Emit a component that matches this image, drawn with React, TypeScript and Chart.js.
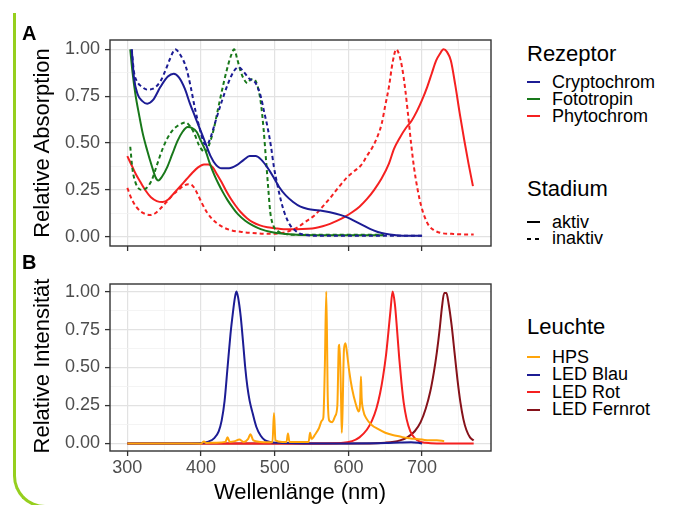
import React, { useEffect, useRef } from 'react';
import { Chart, registerables } from 'chart.js';

Chart.register(...registerables);

const FONT = '"Liberation Sans", Arial, Helvetica, sans-serif';

// ---------- axis ticks ----------
const xMajor = [300, 400, 500, 600, 700];
const xTicks = [300, 350, 400, 450, 500, 550, 600, 650, 700, 750];
const yMajor = [0, 0.25, 0.5, 0.75, 1];
const yTicks = [0, 0.125, 0.25, 0.375, 0.5, 0.625, 0.75, 0.875, 1];
const yTickLabels = ['0.00', '0.25', '0.50', '0.75', '1.00'];

// ---------- Panel A: Rezeptor absorption ----------
const cryAktivX = [306, 309, 314, 320, 327, 335, 345, 355, 363, 370, 378, 385, 392, 399, 406, 413, 420, 428, 438, 448, 458, 466, 474, 482, 490, 498, 506, 515, 525, 535, 545, 560, 575, 590, 600, 610, 620, 630, 640, 650, 665, 680, 700];
const cryAktivY = [1.0, 0.85, 0.76, 0.725, 0.71, 0.73, 0.8, 0.855, 0.87, 0.85, 0.79, 0.71, 0.64, 0.57, 0.5, 0.43, 0.385, 0.365, 0.365, 0.38, 0.41, 0.43, 0.43, 0.41, 0.37, 0.32, 0.265, 0.22, 0.185, 0.16, 0.148, 0.14, 0.13, 0.115, 0.1, 0.08, 0.06, 0.04, 0.025, 0.015, 0.008, 0.005, 0.005];

const cryInaktivX = [306, 309, 313, 320, 327, 335, 345, 352, 358, 365, 372, 380, 386, 392, 398, 404, 408, 413, 420, 428, 436, 444, 451, 458, 465, 474, 481, 486, 490, 495, 499, 504, 508, 513, 517, 522, 526, 532, 540, 560, 600, 650, 700];
const cryInaktivY = [1.0, 0.88, 0.83, 0.8, 0.785, 0.79, 0.83, 0.89, 0.95, 1.0, 0.97, 0.9, 0.8, 0.68, 0.58, 0.5, 0.49, 0.53, 0.62, 0.72, 0.81, 0.88, 0.905, 0.88, 0.845, 0.82, 0.75, 0.66, 0.59, 0.48, 0.37, 0.27, 0.2, 0.13, 0.09, 0.055, 0.04, 0.02, 0.01, 0.005, 0.005, 0.005, 0.005];

const fotoAktivX = [304, 307, 311, 316, 321, 327, 333, 338, 342, 347, 354, 361, 368, 375, 382, 388, 394, 400, 406, 412, 418, 424, 430, 436, 443, 450, 460, 470, 481, 495, 512, 530, 560, 600, 648];
const fotoAktivY = [1.0, 0.88, 0.76, 0.65, 0.55, 0.46, 0.38, 0.32, 0.3, 0.32, 0.37, 0.44, 0.51, 0.56, 0.585, 0.58, 0.56, 0.51, 0.46, 0.39, 0.33, 0.28, 0.235, 0.195, 0.155, 0.12, 0.085, 0.06, 0.04, 0.025, 0.015, 0.01, 0.008, 0.008, 0.008];

const fotoInaktivX = [304, 307, 311, 316, 320, 326, 333, 340, 347, 355, 363, 372, 379, 385, 391, 397, 402, 406, 411, 417, 423, 429, 435, 441, 445, 449, 454, 459, 463, 468, 472, 477, 481, 485, 488, 491, 494, 498, 504, 512, 530, 560, 600, 648];
const fotoInaktivY = [0.48, 0.36, 0.29, 0.255, 0.25, 0.26, 0.3, 0.38, 0.46, 0.53, 0.575, 0.6, 0.61, 0.59, 0.55, 0.49, 0.46, 0.45, 0.49, 0.57, 0.68, 0.79, 0.89, 0.97, 1.0, 0.95, 0.88, 0.835, 0.82, 0.84, 0.84, 0.8, 0.72, 0.57, 0.42, 0.27, 0.13, 0.06, 0.03, 0.015, 0.01, 0.01, 0.01, 0.01];

const phyAktivX = [300, 306, 312, 318, 325, 332, 340, 348, 356, 364, 372, 380, 388, 396, 404, 410, 416, 422, 428, 434, 440, 447, 454, 462, 470, 480, 490, 500, 512, 530, 545, 555, 565, 575, 585, 595, 605, 615, 625, 635, 645, 655, 662, 670, 678, 686, 693, 700, 707, 713, 719, 724, 729, 734, 739, 745, 751, 757, 763, 769];
const phyAktivY = [0.43, 0.38, 0.33, 0.29, 0.245, 0.21, 0.19, 0.185, 0.2, 0.235, 0.27, 0.305, 0.34, 0.37, 0.385, 0.385, 0.37, 0.33, 0.29, 0.245, 0.205, 0.165, 0.13, 0.1, 0.077, 0.06, 0.05, 0.045, 0.04, 0.04, 0.042, 0.046, 0.055, 0.068, 0.085, 0.105, 0.13, 0.16, 0.2, 0.25, 0.31, 0.39, 0.47, 0.53, 0.58, 0.62, 0.67, 0.73, 0.8, 0.87, 0.94, 0.975, 1.0, 0.985, 0.94, 0.81, 0.66, 0.52, 0.39, 0.27];

const phyInaktivX = [300, 306, 312, 318, 325, 331, 338, 345, 352, 360, 368, 376, 383, 389, 395, 401, 408, 415, 422, 430, 440, 455, 470, 490, 510, 520, 531, 542, 553, 565, 576, 588, 599, 608, 617, 625, 633, 640, 645, 650, 655, 660, 665, 669, 673, 677, 681, 685, 689, 694, 699, 704, 709, 716, 725, 740, 755, 770];
const phyInaktivY = [0.26, 0.2, 0.16, 0.135, 0.12, 0.115, 0.125, 0.15, 0.18, 0.215, 0.245, 0.27, 0.28, 0.27, 0.23, 0.18, 0.13, 0.095, 0.07, 0.05, 0.035, 0.025, 0.02, 0.015, 0.02, 0.03, 0.05, 0.08, 0.11, 0.16, 0.21, 0.27, 0.32, 0.35, 0.38, 0.43, 0.48, 0.54, 0.6, 0.7, 0.8, 0.93, 1.0, 0.97, 0.9, 0.79, 0.65, 0.5, 0.37, 0.25, 0.16, 0.1, 0.06, 0.035, 0.02, 0.015, 0.012, 0.012];

// ---------- Panel B: Leuchte spectra ----------
const hpsX = [300, 400, 404, 407, 420, 433, 436, 439, 446, 452, 458, 464, 467, 471, 480, 490, 497, 499, 501, 510, 516, 518, 520, 540, 546, 548, 550, 555, 560, 564, 566, 568, 570, 572, 574, 578, 582, 585, 587, 588, 590, 591, 592, 594, 596, 598, 601, 605, 610, 614, 616, 617, 618, 620, 625, 632, 640, 650, 660, 670, 680, 690, 700, 710, 720, 730];
const hpsY = [0, 0, 0.012, 0.003, 0.005, 0.01, 0.04, 0.01, 0.015, 0.025, 0.01, 0.03, 0.06, 0.02, 0.01, 0.008, 0.01, 0.2, 0.02, 0.01, 0.01, 0.065, 0.01, 0.01, 0.01, 0.07, 0.03, 0.06, 0.1, 0.15, 0.17, 0.5, 1.0, 0.3, 0.15, 0.14, 0.18, 0.25, 0.64, 0.65, 0.3, 0.07, 0.2, 0.62, 0.66, 0.6, 0.48, 0.36, 0.26, 0.21, 0.28, 0.44, 0.3, 0.22, 0.16, 0.12, 0.095, 0.07, 0.055, 0.045, 0.035, 0.03, 0.025, 0.02, 0.02, 0.015];

const blauX = [300, 380, 400, 410, 418, 424, 428, 432, 436, 440, 443, 446, 448, 450, 452, 454, 457, 460, 463, 466, 470, 475, 481, 487, 495, 510, 540, 600, 650, 670, 685, 695, 700];
const blauY = [0, 0, 0.003, 0.012, 0.035, 0.08, 0.15, 0.28, 0.5, 0.72, 0.85, 0.96, 1.0, 0.97, 0.91, 0.83, 0.67, 0.5, 0.37, 0.28, 0.2, 0.11, 0.05, 0.02, 0.008, 0.003, 0, 0, 0.002, 0.006, 0.008, 0.004, 0];

const rotX = [300, 560, 590, 605, 615, 625, 632, 638, 643, 647, 651, 654, 657, 660, 663, 666, 669, 672, 675, 679, 684, 690, 697, 705, 720, 770];
const rotY = [0, 0, 0.003, 0.015, 0.04, 0.09, 0.15, 0.23, 0.33, 0.44, 0.58, 0.72, 0.87, 1.0, 0.92, 0.75, 0.56, 0.4, 0.27, 0.16, 0.08, 0.035, 0.012, 0.004, 0, 0];

const fernrotX = [300, 620, 650, 670, 680, 690, 698, 705, 711, 716, 720, 724, 727, 730, 733, 736, 740, 744, 748, 752, 756, 760, 765, 770];
const fernrotY = [0, 0, 0.005, 0.02, 0.04, 0.08, 0.14, 0.23, 0.34, 0.47, 0.6, 0.76, 0.9, 0.99, 0.99, 0.92, 0.78, 0.6, 0.42, 0.27, 0.16, 0.09, 0.04, 0.02];

// ---------- colours ----------
const C_BLUE = '#1c1c94';
const C_GREEN = '#18781a';
const C_RED = '#f52020';
const C_ORANGE = '#ffa50a';
const C_DARKRED = '#86121a';

const pts = (xs: number[], ys: number[]) => xs.map((x, i) => ({ x, y: ys[i] }));

function line(label: string, xs: number[], ys: number[], color: string, dashed: boolean) {
  return {
    label,
    data: pts(xs, ys),
    borderColor: color,
    backgroundColor: color,
    borderWidth: 2,
    borderDash: dashed ? [4, 3] : [],
    pointRadius: 0,
    cubicInterpolationMode: 'monotone' as const,
    fill: false,
  };
}

const near = (a: number[], v: number) => a.some((m) => Math.abs(m - v) < 1e-9);

function gridOpts(major: number[]) {
  return {
    color: (c: any) => (near(major, c.tick?.value) ? '#e2e2e2' : '#f1f1f1'),
    lineWidth: (c: any) => (near(major, c.tick?.value) ? 1.2 : 0.8),
    tickColor: (c: any) => (near(major, c.tick?.value) ? '#333333' : 'rgba(0,0,0,0)'),
    tickWidth: 1.3,
    tickLength: 5,
    drawTicks: true,
  };
}

function xScale(showLabels: boolean, height: number) {
  return {
    type: 'linear',
    min: 276.5,
    max: 793.5,
    afterBuildTicks: (s: any) => {
      s.ticks = xTicks.map((v) => ({ value: v }));
    },
    afterFit: (s: any) => {
      s.height = height;
      s.paddingLeft = 0;
      s.paddingRight = 0;
    },
    ticks: {
      autoSkip: false,
      maxRotation: 0,
      minRotation: 0,
      padding: 1,
      color: '#4d4d4d',
      font: { family: FONT, size: 18 },
      callback: (v: any) => (showLabels && near(xMajor, v) ? String(v) : ''),
    },
    grid: gridOpts(xMajor),
    border: { display: false },
  };
}

function yScale() {
  return {
    type: 'linear',
    min: -0.05,
    max: 1.05,
    afterBuildTicks: (s: any) => {
      s.ticks = yTicks.map((v) => ({ value: v }));
    },
    afterFit: (s: any) => {
      s.width = 110;
      s.paddingTop = 0;
      s.paddingBottom = 0;
    },
    ticks: {
      autoSkip: false,
      padding: 5,
      color: '#4d4d4d',
      font: { family: FONT, size: 18 },
      callback: (v: any) => {
        const i = yMajor.findIndex((m) => Math.abs(m - v) < 1e-9);
        return i >= 0 ? yTickLabels[i] : '';
      },
    },
    grid: gridOpts(yMajor),
    border: { display: false },
  };
}

const panelBorder = {
  id: 'panelBorder',
  afterDatasetsDraw(chart: any) {
    const { ctx, chartArea: a } = chart;
    ctx.save();
    ctx.strokeStyle = '#333333';
    ctx.lineWidth = 1.4;
    ctx.strokeRect(a.left, a.top, a.right - a.left, a.bottom - a.top);
    ctx.restore();
  },
};

function makeConfig(datasets: any[], showX: boolean, xHeight: number, padTop: number): any {
  return {
    type: 'line',
    data: { datasets },
    options: {
      animation: false,
      responsive: true,
      maintainAspectRatio: false,
      layout: { padding: { top: padTop, right: 9, left: 0, bottom: 0 } },
      plugins: { legend: { display: false }, tooltip: { enabled: false } },
      events: [],
      scales: { x: xScale(showX, xHeight), y: yScale() },
    },
    plugins: [panelBorder],
  };
}

function ChartPanel({ config, style }: { config: any; style: React.CSSProperties }) {
  const ref = useRef<HTMLCanvasElement | null>(null);
  useEffect(() => {
    if (!ref.current) return;
    const chart = new Chart(ref.current, config);
    return () => chart.destroy();
  }, [config]);
  return (
    <div style={{ position: 'absolute', ...style }}>
      <canvas ref={ref} />
    </div>
  );
}

const configA = makeConfig(
  [
    line('Cryptochrom aktiv', cryAktivX, cryAktivY, C_BLUE, false),
    line('Cryptochrom inaktiv', cryInaktivX, cryInaktivY, C_BLUE, true),
    line('Fototropin aktiv', fotoAktivX, fotoAktivY, C_GREEN, false),
    line('Fototropin inaktiv', fotoInaktivX, fotoInaktivY, C_GREEN, true),
    line('Phytochrom aktiv', phyAktivX, phyAktivY, C_RED, false),
    line('Phytochrom inaktiv', phyInaktivX, phyInaktivY, C_RED, true),
  ],
  false,
  6,
  40
);

const configB = makeConfig(
  [
    line('HPS', hpsX, hpsY, C_ORANGE, false),
    line('LED Blau', blauX, blauY, C_BLUE, false),
    line('LED Rot', rotX, rotY, C_RED, false),
    line('LED Fernrot', fernrotX, fernrotY, C_DARKRED, false),
  ],
  true,
  54,
  32
);

const txt = (extra: React.CSSProperties): React.CSSProperties => ({
  position: 'absolute',
  fontFamily: FONT,
  lineHeight: 1,
  whiteSpace: 'nowrap',
  color: '#000',
  ...extra,
});

function Swatch({ top, color, dashed }: { top: number; color: string; dashed?: boolean }) {
  if (dashed) {
    return (
      <>
        <div style={{ position: 'absolute', left: 527, top: top - 1, width: 4, height: 2, background: color }} />
        <div style={{ position: 'absolute', left: 535, top: top - 1, width: 4, height: 2, background: color }} />
      </>
    );
  }
  return <div style={{ position: 'absolute', left: 527, top: top - 1, width: 13, height: 2, background: color }} />;
}

function LegendItem({ label, baseline, color, dashed }: { label: string; baseline: number; color: string; dashed?: boolean }) {
  return (
    <>
      <Swatch top={baseline - 6} color={color} dashed={dashed} />
      <div style={txt({ left: 552, top: baseline - 15.2, fontSize: 18 })}>{label}</div>
    </>
  );
}

function LegendTitle({ label, baseline }: { label: string; baseline: number }) {
  return <div style={txt({ left: 527, top: baseline - 18.6, fontSize: 22 })}>{label}</div>;
}

export default function App() {
  return (
    <div style={{ position: 'absolute', left: 0, top: 0, width: 674, height: 505, background: '#fff', overflow: 'hidden' }}>
      <div
        style={{
          position: 'absolute',
          left: 13,
          top: 13,
          width: 500,
          height: 495,
          borderLeft: '3px solid #96cf1e',
          borderBottom: '3px solid #96cf1e',
          borderBottomLeftRadius: 32,
          boxSizing: 'border-box',
        }}
      />
      <ChartPanel config={configA} style={{ left: 0, top: 0, width: 500, height: 252 }} />
      <ChartPanel config={configB} style={{ left: 0, top: 252, width: 500, height: 253 }} />

      <div style={txt({ left: 22, top: 23, fontSize: 20, fontWeight: 'bold' })}>A</div>
      <div style={txt({ left: 22, top: 252, fontSize: 20, fontWeight: 'bold' })}>B</div>

      <div style={txt({ left: 42, top: 143, fontSize: 22, transform: 'translate(-50%,-50%) rotate(-90deg)' })}>
        Relative Absorption
      </div>
      <div style={txt({ left: 42, top: 366, fontSize: 22, transform: 'translate(-50%,-50%) rotate(-90deg)' })}>
        Relative Intensität
      </div>
      <div style={txt({ left: 300, top: 480.5, fontSize: 22, transform: 'translateX(-50%)' })}>Wellenlänge (nm)</div>

      <LegendTitle label="Rezeptor" baseline={62} />
      <LegendItem label="Cryptochrom" baseline={88} color={C_BLUE} />
      <LegendItem label="Fototropin" baseline={105} color={C_GREEN} />
      <LegendItem label="Phytochrom" baseline={122} color={C_RED} />

      <LegendTitle label="Stadium" baseline={197} />
      <LegendItem label="aktiv" baseline={228} color="#000" />
      <LegendItem label="inaktiv" baseline={244.5} color="#000" dashed />

      <LegendTitle label="Leuchte" baseline={335} />
      <LegendItem label="HPS" baseline={363} color={C_ORANGE} />
      <LegendItem label="LED Blau" baseline={380.5} color={C_BLUE} />
      <LegendItem label="LED Rot" baseline={398} color={C_RED} />
      <LegendItem label="LED Fernrot" baseline={415.5} color={C_DARKRED} />
    </div>
  );
}
